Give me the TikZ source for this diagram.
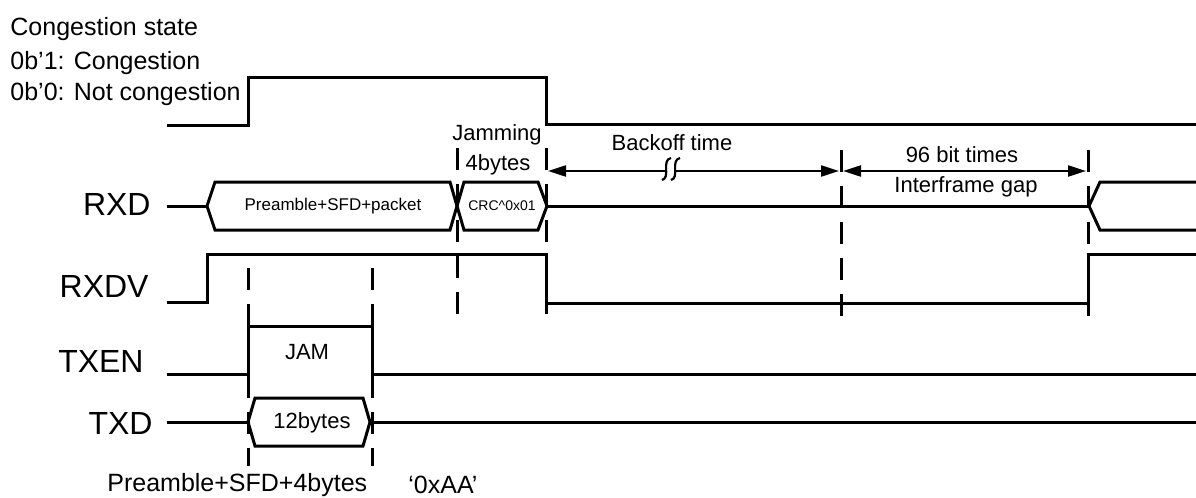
\documentclass[tikz,border=0pt]{standalone}
\usepackage{fontspec}
\setmainfont{Liberation Sans}
\usetikzlibrary{arrows.meta}

\begin{document}
\begin{tikzpicture}[
  x=0.5pt,y=-0.5pt,
  >={Triangle[length=9pt,width=5.5pt]},
  sig/.style={line width=1.5pt,line join=miter},
  cutline/.style={line width=1.5pt,dash pattern=on 11pt off 7pt},
  span/.style={<->,line width=1.1pt},
  sname/.style={anchor=east,inner sep=0pt,font=\fontsize{16}{19}\selectfont},
  lab/.style={inner sep=0pt,font=\fontsize{11}{13}\selectfont},
  head/.style={anchor=west,inner sep=0pt,font=\fontsize{12.5}{15}\selectfont},
  small/.style={inner sep=0pt,font=\fontsize{#1}{10}\selectfont}
]
\useasboundingbox (0,0) rectangle (1196,498);
\node[head] (cstate) at (10,29) {Congestion state};
\node[head] (cone) at (10,63) {0b’1: Congestion};
\node[head] (czero) at (10,94) {0b’0: Not congestion};
\draw[sig] (167,125) -- (248,125) -- (248,77) -- (546,77) -- (546,124) -- (1196,124);
\node[sname] (rxd) at (151,204) {RXD};
\node[sname] (rxdv) at (149,286) {RXDV};
\node[sname] (txen) at (144,361) {TXEN};
\node[sname] (txd) at (153,423) {TXD};
\draw[sig] (167,206) -- (207,206);
\draw[sig] (207,206) -- (215,182) -- (450,182) -- (457,206) -- (450,230) -- (215,230) -- cycle;
\draw[sig] (457,206) -- (464,182) -- (538,182) -- (547,206) -- (538,230) -- (464,230) -- cycle;
\draw[sig] (547,206) -- (1089,206);
\draw[sig] (1196,182) -- (1100,182) -- (1089,206) -- (1100,230) -- (1196,230);
\node[small=8.5] (pkt) at (333,206) {Preamble+SFD+packet};
\node[small=7] (crc) at (502,206) {CRC\textasciicircum 0x01};
\draw[sig] (167,302) -- (207,302) -- (207,254) -- (546,254) -- (546,303) -- (1088,303) -- (1088,254) -- (1196,254);
\draw[sig] (167,374) -- (248,374) -- (248,326) -- (372,326) -- (372,374) -- (1196,374);
\node[lab] (jam) at (307,352) {JAM};
\draw[sig] (167,422) -- (248,422);
\draw[sig] (248,422) -- (255,398) -- (363,398) -- (370,422) -- (363,446) -- (255,446) -- cycle;
\draw[sig] (370,422) -- (1196,422);
\node[lab] (txbytes) at (312,423) {12bytes};
\draw[cutline] (457,148) -- (457,318);
\draw[cutline] (546,148) -- (546,318);
\draw[cutline] (841,150) -- (841,318);
\draw[cutline] (1088,150) -- (1088,320);
\draw[cutline] (248,268) -- (248,466);
\draw[cutline] (372,268) -- (372,466);
\node[lab] (jamming) at (497,135) {Jamming};
\node[lab] (fourbytes) at (498,165) {4bytes};
\coordinate (boA) at (548,171);
\coordinate (boB) at (839,171);
\coordinate (ifA) at (843,171);
\coordinate (ifB) at (1086,171);
\draw[span] (boA) -- (boB);
\draw[span] (ifA) -- (ifB);
\fill[white] (666,168) rectangle (676,174);
\draw[line width=1.1pt] (662,180) .. controls (671,178) and (661,160) .. (671,158);
\draw[line width=1.1pt] (671,180) .. controls (680,178) and (670,160) .. (680,158);
\node[lab] (backoff) at (672,143) {Backoff time};
\node[lab] (bittimes) at (962,155) {96 bit times};
\node[lab] (ifg) at (966,187) {Interframe gap};
\node[head] (pre) at (107,485) {Preamble+SFD+4bytes};
\node[head] (aa) at (408,485) {‘0xAA’};
\end{tikzpicture}
\end{document}
